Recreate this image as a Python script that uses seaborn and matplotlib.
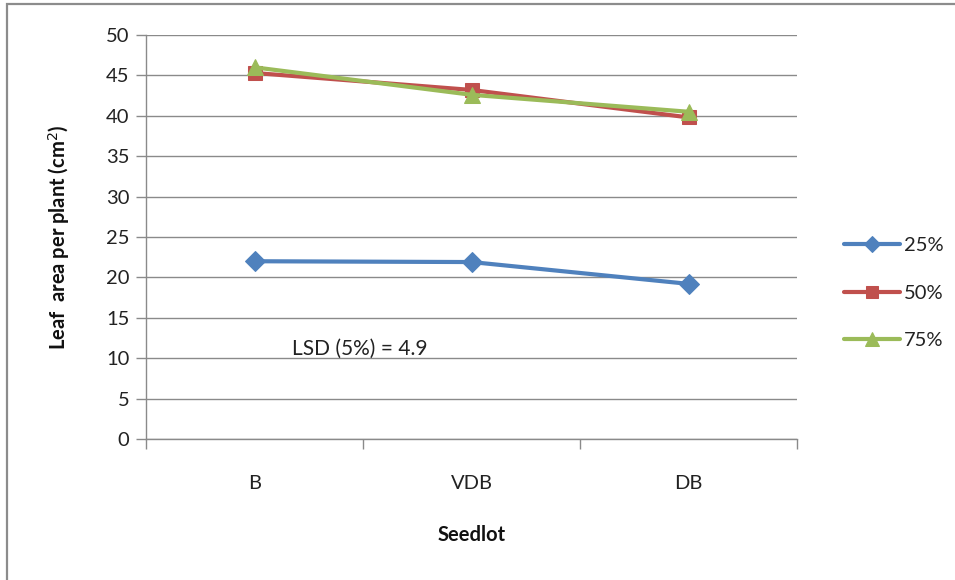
import matplotlib
matplotlib.use("Agg")
import matplotlib.pyplot as plt
import seaborn as sns
import pandas as pd
from matplotlib.patches import Rectangle

# Leaf area per plant by seedlot, for three treatment levels
seedlots = ["B", "VDB", "DB"]
series_names = ["25%", "50%", "75%"]
leaf_25 = [22.0, 21.9, 19.2]
leaf_50 = [45.3, 43.2, 39.8]
leaf_75 = [46.0, 42.6, 40.5]
lsd_text = "LSD (5%) = 4.9"

colors = {"25%": "#4F81BD", "50%": "#C0504D", "75%": "#9BBB59"}
markers = {"25%": "D", "50%": "s", "75%": "^"}
msizes = {"25%": 10, "50%": 10.5, "75%": 12}

rows = []
for name, vals in zip(series_names, [leaf_25, leaf_50, leaf_75]):
    for i, (s, v) in enumerate(zip(seedlots, vals)):
        rows.append({"series": name, "seedlot": s, "pos": i, "value": v})
df = pd.DataFrame(rows)

sns.set_theme(style="white")
plt.rcParams["font.family"] = ["Lato", "DejaVu Sans"]

fig = plt.figure(figsize=(9.55, 5.8), dpi=100)
ax = fig.add_axes([146 / 955, 1 - 439 / 580, (797 - 146) / 955, (439 - 35) / 580])

# outer chart frame
fig.patches.append(Rectangle((7 / 955, -0.1), 1.1, 1 - 4 / 580 + 0.1,
                             transform=fig.transFigure, fill=False,
                             edgecolor="#8c8c8c", linewidth=1.6, zorder=0))

for name in series_names:
    sub = df[df["series"] == name]
    sns.lineplot(data=sub, x="pos", y="value", ax=ax, color=colors[name],
                 marker=markers[name], markersize=msizes[name],
                 markeredgecolor=colors[name], linewidth=3, label=name,
                 zorder=3)

ax.set_xlim(-0.5, len(seedlots) - 0.5)
ax.set_ylim(0, 50)
ax.set_yticks(range(0, 51, 5))
ax.set_xticks(range(len(seedlots)))
ax.set_xticklabels(seedlots)
ax.set_xticks([i - 0.5 for i in range(len(seedlots) + 1)], minor=True)

ax.grid(axis="y", color="#8a8a8a", linewidth=1)
ax.set_axisbelow(True)
for side in ["top", "right"]:
    ax.spines[side].set_visible(False)
for side in ["left", "bottom"]:
    ax.spines[side].set_color("#8a8a8a")
    ax.spines[side].set_linewidth(1)

ax.tick_params(axis="y", which="major", left=True, length=7, width=1,
               color="#8a8a8a", labelsize=14.5, labelcolor="#222222", pad=5)
ax.tick_params(axis="x", which="major", bottom=False, labelsize=14.5,
               labelcolor="#222222", pad=20)
ax.tick_params(axis="x", which="minor", bottom=True, length=7, width=1,
               color="#8a8a8a")

ax.set_xlabel("Seedlot", fontsize=14.5, fontweight="bold", labelpad=24, color="#111111")
ax.set_ylabel("Leaf  area per plant (cm$^2$)", fontsize=14.5, fontweight="bold",
              labelpad=24, color="#111111")

ax.text(0.175, 11.1, lsd_text, fontsize=15, color="#222222", va="center", ha="left")

ax.get_legend().remove()
handles, labels = ax.get_legend_handles_labels()
fig.legend(handles, labels, loc="center left", bbox_to_anchor=(826 / 955, 1 - 293 / 580),
           frameon=False, fontsize=14.5, handlelength=2.75, handletextpad=0.2,
           labelspacing=1.5, labelcolor="#222222", markerscale=0.85)

fig.savefig("out.png", dpi=100, facecolor="white")
